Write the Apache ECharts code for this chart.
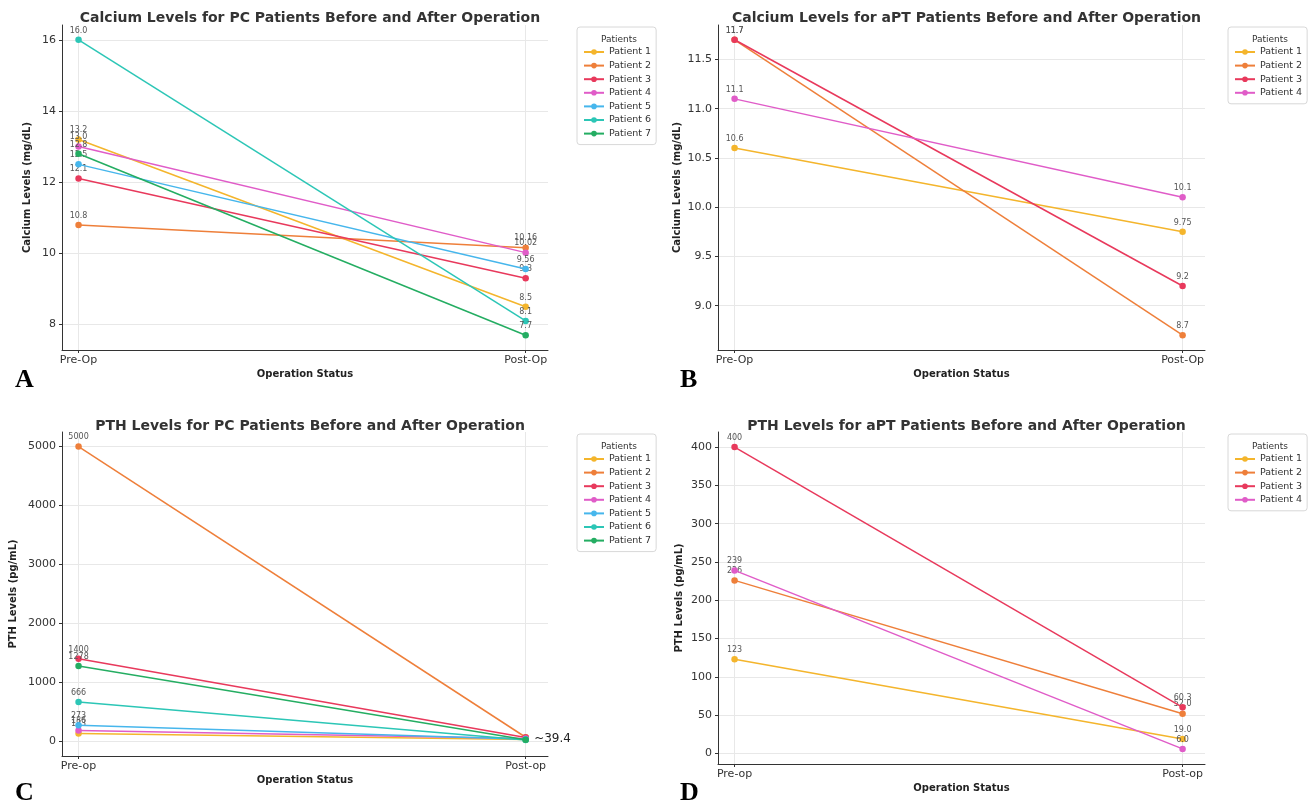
<!DOCTYPE html>
<html><head><meta charset="utf-8">
<script src="https://cdn.jsdelivr.net/npm/echarts@6/dist/echarts.min.js"></script>
<style>html,body{margin:0;padding:0;background:#fff}#c{width:1316px;height:808px}</style>
</head><body><div id="c"></div>
<script>
const catsA = ['Pre-Op', 'Post-Op'];
const catsC = ['Pre-op', 'Post-op'];
const patientsPC = ['Patient 1','Patient 2','Patient 3','Patient 4','Patient 5','Patient 6','Patient 7'];
const patientsAPT = ['Patient 1','Patient 2','Patient 3','Patient 4'];
const colors = ['#f4b52c','#ee7f3a','#e8395c','#e05cc8','#46b6ec','#2cc6b6','#24ad62'];

const caPCPre  = [13.2, 10.8, 12.1, 13.0, 12.5, 16.0, 12.8];
const caPCPost = [8.5, 10.16, 9.3, 10.02, 9.56, 8.1, 7.7];
const caAPTPre  = [10.6, 11.7, 11.7, 11.1];
const caAPTPost = [9.75, 8.7, 9.2, 10.1];
const pthPCPre  = [133, 5000, 1400, 186, 273, 666, 1278];
const pthPCPost = [30, 70, 65, 50, 35, 25, 28];
const pthAPTPre  = [123, 226, 400, 239];
const pthAPTPost = [19.0, 52.0, 60.3, 6.0];

const ticksA = [8, 10, 12, 14, 16];
const ticksB = [9.0, 9.5, 10.0, 10.5, 11.0, 11.5];
const ticksC = [0, 1000, 2000, 3000, 4000, 5000];
const ticksD = [0, 50, 100, 150, 200, 250, 300, 350, 400];

const panels = [
  {title:'Calcium Levels for PC Patients Before and After Operation', yname:'Calcium Levels (mg/dL)', cats:catsA, names:patientsPC, pre:caPCPre, post:caPCPost, ticks:ticksA, ymin:7.285, ymax:16.415,
   grid:{left:62, top:25, width:486, height:325}, titleTop:6, preFmt:v=>v.toFixed(1), postFmt:v=>String(v), legend:{left:577, top:27}, nameGap:30},
  {title:'Calcium Levels for aPT Patients Before and After Operation', yname:'Calcium Levels (mg/dL)', cats:catsA, names:patientsAPT, pre:caAPTPre, post:caAPTPost, ticks:ticksB, ymin:8.55, ymax:11.85,
   grid:{left:718, top:25, width:487, height:325}, titleTop:6, preFmt:v=>String(v), postFmt:v=>String(v), legend:{left:1228, top:27}, nameGap:36},
  {title:'PTH Levels for PC Patients Before and After Operation', yname:'PTH Levels (pg/mL)', cats:catsC, names:patientsPC, pre:pthPCPre, post:pthPCPost, ticks:ticksC, ymin:-248, ymax:5248,
   grid:{left:62, top:432, width:486, height:324}, titleTop:414, preFmt:v=>String(v), postFmt:null, legend:{left:577, top:434}, nameGap:44},
  {title:'PTH Levels for aPT Patients Before and After Operation', yname:'PTH Levels (pg/mL)', cats:catsC, names:patientsAPT, pre:pthAPTPre, post:pthAPTPost, ticks:ticksD, ymin:-13.7, ymax:419.7,
   grid:{left:718, top:432, width:487, height:332}, titleTop:414, preFmt:v=>String(v), postFmt:v=>v.toFixed(1), legend:{left:1228, top:434}, nameGap:34}
];

const FONT = 'DejaVu Sans';
const option = {animation:false, backgroundColor:'#fff', textStyle:{fontFamily:FONT},
  grid:[], xAxis:[], yAxis:[], series:[], title:[], legend:[], graphic:[]};

panels.forEach((p, i) => {
  option.grid.push(Object.assign({containLabel:false}, p.grid));
  option.title.push({text:p.title, left:p.grid.left + p.grid.width/2, top:p.titleTop, textAlign:'center',
    textStyle:{fontSize:14, fontWeight:'bold', color:'#333', fontFamily:FONT}});
  option.title.push({text:'Patients', left:p.legend.left + 37, top:p.legend.top + 3, textAlign:'center',
    textStyle:{fontSize:9, fontWeight:'normal', color:'#333', fontFamily:FONT}});
  option.legend.push({data:p.names, orient:'vertical', left:p.legend.left, top:p.legend.top,
    padding:[20, 5, 6, 6], itemGap:3.6, itemWidth:20, itemHeight:7,
    borderColor:'#d8d8d8', borderWidth:1, borderRadius:3, backgroundColor:'#fff',
    textStyle:{fontSize:9.5, color:'#333', fontFamily:FONT}});
  option.xAxis.push({type:'value', gridIndex:i, min:-0.037, max:1.05,
    name:'Operation Status', nameLocation:'middle', nameGap:19,
    nameTextStyle:{fontSize:10, fontWeight:'bold', color:'#222'},
    axisLine:{onZero:false, lineStyle:{color:'#333'}}, axisTick:{customValues:[0,1], length:3, lineStyle:{color:'#333'}},
    axisLabel:{customValues:[0,1], formatter:v => p.cats[Math.round(v)], fontSize:11, color:'#333', margin:5},
    splitLine:{show:true, lineStyle:{color:'#e8e8e8'}}});
  option.yAxis.push({type:'value', gridIndex:i, min:p.ymin, max:p.ymax,
    name:p.yname, nameLocation:'middle', nameGap:p.nameGap,
    nameTextStyle:{fontSize:10, fontWeight:'bold', color:'#222'},
    axisLine:{show:true, onZero:false, lineStyle:{color:'#333'}}, axisTick:{show:true, customValues:p.ticks, length:3, lineStyle:{color:'#333'}},
    axisLabel:{customValues:p.ticks, fontSize:11, color:'#333', margin:6, formatter:v=> (i===1 ? v.toFixed(1) : String(v))},
    splitLine:{show:true, lineStyle:{color:'#e8e8e8'}}});
  p.names.forEach((n, k) => {
    const s = {name:n, type:'line', xAxisIndex:i, yAxisIndex:i,
      data:[{value:[0, p.pre[k]], label:{show:true, formatter:()=>p.preFmt(p.pre[k])}},
            {value:[1, p.post[k]], label:{show:!!p.postFmt, formatter:()=> p.postFmt ? p.postFmt(p.post[k]) : ''}}],
      symbol:'circle', symbolSize:6.5, color:colors[k], lineStyle:{width:1.5, color:colors[k]},
      label:{position:'top', distance:2, fontSize:8, color:'#555'}, z:2+k};
    if (i===2 && k===1) {
      s.markPoint = {symbol:'circle', symbolSize:1, itemStyle:{color:'rgba(0,0,0,0)'},
        data:[{coord:[1, 39.4], label:{show:true, position:'right', distance:8, formatter:'~39.4', fontSize:12, color:'#222'}}]};
    }
    option.series.push(s);
  });
});

const letters = [['A',15,367],['B',680,367],['C',15,780],['D',680,780]];
letters.forEach(l => option.graphic.push({type:'text', left:l[1], top:l[2],
  style:{text:l[0], font:'bold 26px "Liberation Serif"', fill:'#000'}}));

const chart = echarts.init(document.getElementById('c'), null, {renderer:'canvas'});
chart.setOption(option);
</script></body></html>
